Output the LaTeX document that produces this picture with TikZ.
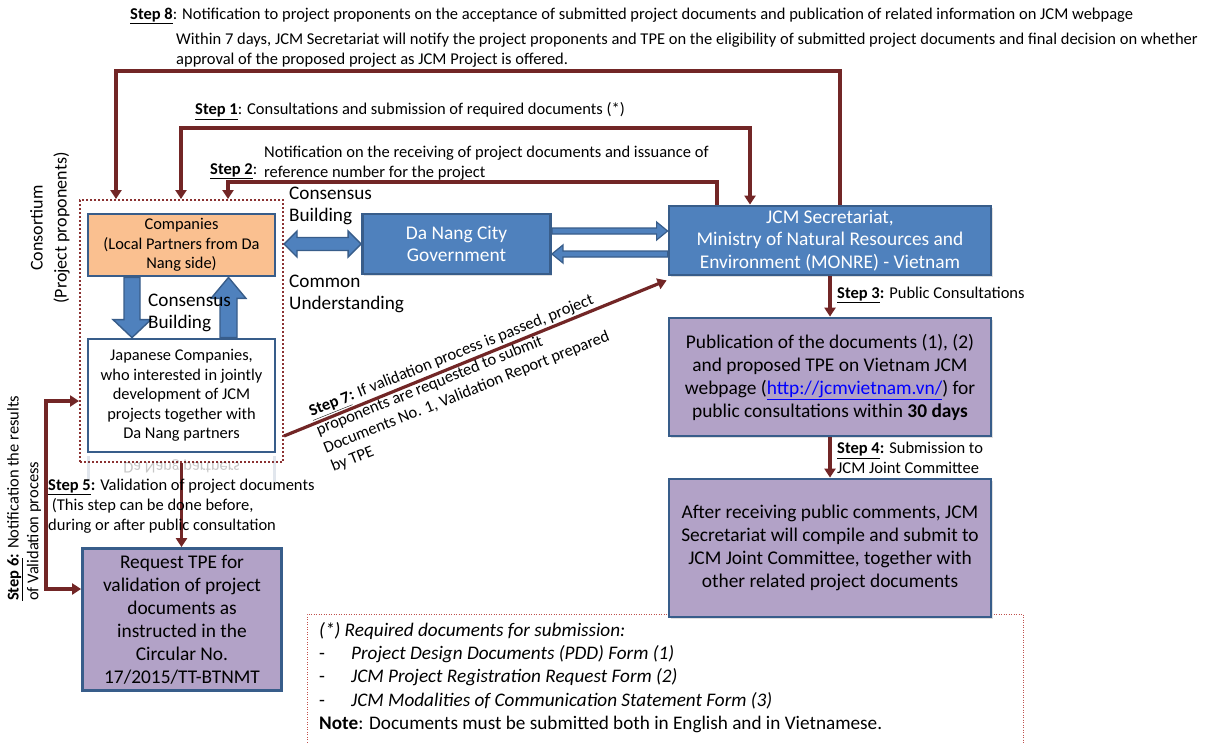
\documentclass[tikz,border=0pt]{standalone}
\usepackage{fontspec}
\setmainfont{Carlito}
\usetikzlibrary{arrows.meta,calc,shadows}

\definecolor{connred}{RGB}{114,38,38}
\definecolor{bluefill}{RGB}{79,129,189}
\definecolor{blueline}{RGB}{56,93,138}
\definecolor{purplefill}{RGB}{178,162,199}
\definecolor{orangefill}{RGB}{250,192,144}
\definecolor{dotred}{RGB}{140,50,50}
\definecolor{notered}{RGB}{192,80,77}
\definecolor{linkblue}{RGB}{0,0,255}

\newcommand\steplab[1]{\textbf{\underline{#1}}}

\tikzset{
  flow/.style={draw=blueline, line width=2.8pt, inner sep=2pt, align=center},
  softshadow/.style={drop shadow={shadow xshift=1.5pt, shadow yshift=-1.5pt, opacity=0.25}},
  bluebox/.style={flow, softshadow, fill=bluefill, text=white, font=\fontsize{19.4}{22.5}\selectfont},
  purplebox/.style={flow, softshadow, fill=purplefill, font=\fontsize{19.4}{23}\selectfont},
  compbox/.style={flow, font=\fontsize{16.4}{19.5}\selectfont},
  link/.style={draw=connred, line width=3.2pt, -{Triangle[length=9pt,width=11pt]}},
  steptext/.style={font=\fontsize{16.5}{19.8}\selectfont, inner sep=0pt, align=left},
  biglabel/.style={font=\fontsize{19.2}{22}\selectfont, inner sep=0pt, align=left, anchor=west},
  blockarrow/.style={fill=bluefill, draw=blueline, line width=1.4pt, line join=miter},
}

\begin{document}
\begin{tikzpicture}[x=1pt, y=-1pt]
\fill[white] (0,0) rectangle (1214,742);
\useasboundingbox (0,0) rectangle (1214,742);

% ---- consortium group -------------------------------------------------
\node[draw=dotred, line width=2pt, dash pattern=on 2pt off 2pt,
      minimum width=203pt, minimum height=262pt] (cons) at (181.5,331) {};
\node[compbox, fill=orangefill, minimum width=187pt, minimum height=62pt]
  (comp) at (181.5,245) {Companies\\(Local Partners from Da\\Nang side)};
\node[compbox, fill=white, minimum width=187pt, minimum height=113pt]
  (jap) at (181.5,395.5) {Japanese Companies,\\who interested in jointly\\development of JCM\\projects together with\\Da Nang partners};

% faint reflection under the Japanese companies box
\draw[blueline, opacity=0.15, line width=2.5pt] (88.5,456) -- (88.5,482) (274.5,456) -- (274.5,482);
\node[compbox, draw=none, text=black, opacity=0.22, yscale=-1, transform shape] (refl) at (181.5,466) {Da Nang partners};

\node[font=\fontsize{18}{24}\selectfont, rotate=90, align=center, inner sep=0pt]
  (conslbl) at (50,228) {Consortium\\(Project proponents)};

% block arrows between the two company boxes
\draw[blockarrow]
  ($(comp.south)+(-57.5,0)$) -- ($(comp.south)+(-41.5,0)$) -- ($(jap.north)+(-41.5,-18)$)
  -- ($(jap.north)+(-30.5,-18)$) -- ($(jap.north)+(-49.5,0)$) -- ($(jap.north)+(-68.5,-18)$)
  -- ($(jap.north)+(-57.5,-18)$) -- cycle;
\draw[blockarrow]
  ($(jap.north)+(38.5,0)$) -- ($(comp.south)+(38.5,21)$) -- ($(comp.south)+(29.5,21)$)
  -- ($(comp.south)+(47,0)$) -- ($(comp.south)+(64.5,21)$) -- ($(comp.south)+(55.5,21)$)
  -- ($(jap.north)+(55.5,0)$) -- cycle;
\node[biglabel] (cb1) at (148,313) {Consensus\\Building};

% ---- Da Nang and JCM --------------------------------------------------
\node[bluebox, minimum width=188pt, minimum height=60pt] (danang) at (456.5,244) {Da Nang City\\Government};
\node[bluebox, minimum width=322pt, minimum height=69pt] (jcm) at (830,240.5)
  {JCM Secretariat,\\Ministry of Natural Resources and\\Environment (MONRE) - Vietnam};

\coordinate (dblL) at (cons.east |- danang.west);
\coordinate (dblR) at (danang.west);
\draw[blockarrow]
  (dblL) -- ($(dblL)+(13,-13)$) -- ($(dblL)+(13,-6.5)$) -- ($(dblR)+(-13,-6.5)$)
  -- ($(dblR)+(-13,-13)$) -- (dblR) -- ($(dblR)+(-13,13)$) -- ($(dblR)+(-13,6.5)$)
  -- ($(dblL)+(13,6.5)$) -- ($(dblL)+(13,13)$) -- cycle;
\node[biglabel] (cb2) at (289,206) {Consensus\\Building};
\node[biglabel] (cu) at (289,294) {Common\\Understanding};

\coordinate (r1s) at (danang.east |- 0,231);
\coordinate (r1e) at (jcm.west |- 0,231);
\draw[blockarrow, line width=1.2pt]
  ($(r1s)+(0,-3)$) -- ($(r1e)+(-11,-3)$) -- ($(r1e)+(-11,-9)$) -- (r1e)
  -- ($(r1e)+(-11,9)$) -- ($(r1e)+(-11,3)$) -- ($(r1s)+(0,3)$) -- cycle;
\coordinate (r2s) at (jcm.west |- 0,254);
\coordinate (r2e) at (danang.east |- 0,254);
\draw[blockarrow, line width=1.2pt]
  ($(r2s)+(0,-3)$) -- ($(r2e)+(11,-3)$) -- ($(r2e)+(11,-9)$) -- (r2e)
  -- ($(r2e)+(11,9)$) -- ($(r2e)+(11,3)$) -- ($(r2s)+(0,3)$) -- cycle;

% ---- right column -----------------------------------------------------
\node[purplebox, minimum width=322pt, minimum height=118pt] (pub) at (830,377)
  {Publication of the documents (1), (2)\\and proposed TPE on Vietnam JCM\\webpage ({\color{linkblue}\underline{http://jcmvietnam.vn/}}) for\\public consultations within \textbf{30 days}};

% note frame (drawn before the committee box, which overlaps it)
\draw[notered, line width=1pt, dash pattern=on 1pt off 1.5pt] (307,760) -- (307,614) -- (1023,614) -- (1023,760);
\node[font=\fontsize{19.2}{23.3}\selectfont, align=left, anchor=north west, inner sep=0pt] (notes) at (319,622)
  {\textit{(*) Required documents for submission:}\\
   \makebox[32pt][l]{-}\textit{Project Design Documents (PDD) Form (1)}\\
   \makebox[32pt][l]{-}\textit{JCM Project Registration Request Form (2)}\\
   \makebox[32pt][l]{-}\textit{JCM Modalities of Communication Statement Form (3)}\\
   \textbf{Note}: Documents must be submitted both in English and in Vietnamese.};

\node[purplebox, minimum width=322pt, minimum height=138pt] (final) at (830,548)
  {After receiving public comments, JCM\\Secretariat will compile and submit to\\JCM Joint Committee, together with\\other related project documents};

\node[purplebox, minimum width=199pt, minimum height=142pt] (tpe) at (182,619.5)
  {Request TPE for\\validation of project\\documents as\\instructed in the\\Circular No.\\17/2015/TT-BTNMT};

% ---- step connectors ----------------------------------------------------
\draw[link] (jcm.north -| 840,0) |- (116,71) -- (116,0 |- cons.north);
\draw[link, {Triangle[length=9pt,width=11pt]}-{Triangle[length=9pt,width=11pt]}]
  (181,0 |- cons.north) |- (750,128) -- (750,0 |- jcm.north);
\draw[link] (717,0 |- jcm.north) |- (228,182) -- (228,0 |- cons.north);
\draw[link] (830,0 |- jcm.south) -- (830,0 |- pub.north);
\draw[link] (830,0 |- pub.south) -- (830,0 |- final.north);
\draw[link] (cons.south) -- (tpe.north -| cons.south);
\draw[link, {Triangle[length=9pt,width=11pt]}-{Triangle[length=9pt,width=11pt]}]
  (tpe.west |- 0,589) -| (46,401) -- (cons.west |- 0,401);
\coordinate (s7start) at (cons.east |- 0,436);
\draw[link] (s7start) -- ($(jcm.south west)+(-1,4)$);

% ---- step labels ------------------------------------------------------
\node[steptext, anchor=west] (s8a) at (130,16)
  {\steplab{Step 8}: Notification to project proponents on the acceptance of submitted project documents and publication of related information on JCM webpage};
\node[steptext, anchor=west] (s8b) at (176,50)
  {Within 7 days, JCM Secretariat will notify the project proponents and TPE on the eligibility of submitted project documents and final decision on whether\\approval of the proposed project as JCM Project is offered.};
\node[steptext, anchor=west] (s1) at (195,111)
  {\steplab{Step 1}: Consultations and submission of required documents (*)};
\node[steptext, anchor=west] (s2a) at (210,171) {\steplab{Step 2}:};
\node[steptext, anchor=west] (s2b) at (264,163)
  {Notification on the receiving of project documents and issuance of\\reference number for the project};
\node[steptext, anchor=west] (s3) at (837,295) {\steplab{Step 3}\textbf{:} Public Consultations};
\node[steptext, anchor=west] (s4) at (837,458) {\steplab{Step 4}\textbf{:} Submission to\\JCM Joint Committee};
\node[steptext, anchor=north west] (s5) at (48,479)
  {\steplab{Step 5}\textbf{:} Validation of project documents\\\ (This step can be done before,\\during or after public consultation};
\node[steptext, rotate=90, anchor=north west] (s6) at (7,601)
  {\steplab{Step 6}\textbf{:} Notification the results\\of Validation process};
\node[steptext, rotate=21.8, anchor=north west] (s7) at (307,406)
  {\steplab{Step 7}\textbf{:} If validation process is passed, project\\proponents are requested to submit\\Documents No. 1, Validation Report prepared\\by TPE};

\end{tikzpicture}
\end{document}
